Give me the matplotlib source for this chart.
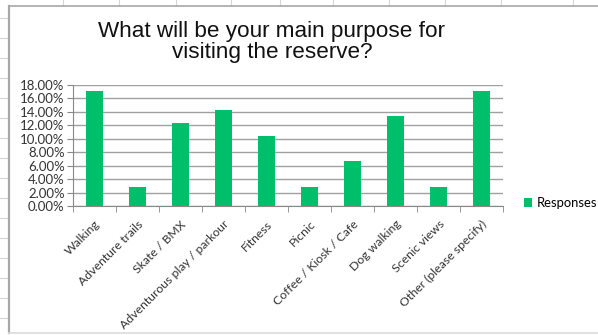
#!/usr/bin/env python
import numpy as np
import matplotlib
matplotlib.use("Agg")
import matplotlib.pyplot as plt
from matplotlib.lines import Line2D
from matplotlib.ticker import PercentFormatter

categories = ["Walking", "Adventure trails", "Skate / BMX",
              "Adventurous play / parkour", "Fitness", "Picnic",
              "Coffee / Kiosk / Cafe", "Dog walking", "Scenic views",
              "Other (please specify)"]
responses = [17.14, 2.86, 12.38, 14.29, 10.48, 2.86, 6.67, 13.33, 2.86, 17.14]
y_ticks = [0, 2, 4, 6, 8, 10, 12, 14, 16, 18]

W, H = 598, 335
fig = plt.figure(figsize=(W / 100, H / 100), dpi=100)

# spreadsheet cells behind the chart
sheet_col = "#d6d6d6"
for xc in [63, 119, 176, 231, 280, 333, 389, 445, 501, 573]:
    fig.add_artist(Line2D([xc / W, xc / W], [1, 1 - 6 / H], color=sheet_col, lw=0.8))
for yr in range(18, 335, 20):
    fig.add_artist(Line2D([0, 8 / W], [1 - yr / H, 1 - yr / H], color=sheet_col, lw=0.8))

# chart frame
frame = "#a8a8a8"
fig.add_artist(Line2D([9 / W, 9 / W], [1 - 6 / H, 1 - 333 / H], color=frame, lw=1.6))
fig.add_artist(Line2D([9 / W, 1], [1 - 6 / H, 1 - 6 / H], color=frame, lw=1.2))
fig.add_artist(Line2D([9 / W, 1], [1 - 333 / H, 1 - 333 / H], color="#dcdcdc", lw=1.2))

ax = fig.add_axes([73 / W, 1 - 206 / H, 430 / W, 121 / H])
x = np.arange(len(categories))
ax.bar(x, responses, width=0.4, color="#00bf6b", label="Responses", zorder=3)

ax.set_xlim(-0.5, len(categories) - 0.5)
ax.set_ylim(0, 18)
ax.set_yticks(y_ticks)
ax.yaxis.set_major_formatter(PercentFormatter(decimals=2))
ax.grid(axis="y", color="#a0a0a0", lw=1.0, zorder=0)

ax.set_xticks(x)
ax.set_xticklabels(categories, rotation=45, ha="right", rotation_mode="anchor",
                   family="Lato", fontsize=8.8, color="#333333")
ax.set_xticks(np.arange(-0.5, len(categories)), minor=True)
ax.tick_params(axis="x", which="major", length=0, pad=9)
ax.tick_params(axis="x", which="minor", length=4, color="#888888")
ax.tick_params(axis="y", length=4, color="#888888", pad=2)
for lab in ax.get_yticklabels():
    lab.set_family("Lato")
    lab.set_fontsize(9.5)
    lab.set_color("#333333")

for side in ["top", "right"]:
    ax.spines[side].set_visible(False)
for side in ["left", "bottom"]:
    ax.spines[side].set_color("#888888")

fig.text(272 / W, 1 - 21 / H, "What will be your main purpose for\nvisiting the reserve?",
         ha="center", va="top", family="Liberation Sans", fontsize=16.2,
         linespacing=1.02, color="#111111")

fig.legend(loc="center left", bbox_to_anchor=(524 / W, 1 - 203 / H), frameon=False,
           prop={"family": "Lato", "size": 9.4}, handlelength=0.6, handleheight=0.6,
           handletextpad=0.4, borderaxespad=0, borderpad=0)

fig.savefig("out.png", dpi=100)
